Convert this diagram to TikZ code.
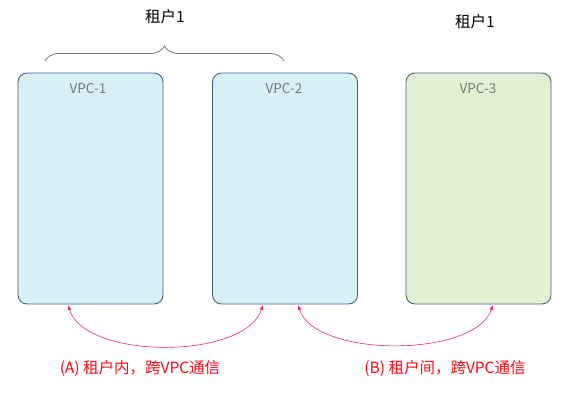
\documentclass[tikz,border=0pt]{standalone}
\usepackage{fontspec}
\setmainfont{Noto Sans CJK SC}
\usetikzlibrary{decorations.pathreplacing,arrows.meta}
\definecolor{bordc}{HTML}{4A5F8E}
\definecolor{bluef}{HTML}{D6F0F6}
\definecolor{greenf}{HTML}{E0F2D2}
\definecolor{labc}{HTML}{7A7A7A}
\definecolor{redc}{HTML}{FF0A14}
\definecolor{arrc}{HTML}{EC2C58}
\begin{document}
\begin{tikzpicture}[x=1pt,y=-1pt,
  vpc/.style={draw=bordc,line width=0.9pt,rounded corners=9pt,minimum width=145pt,minimum height=231pt,inner sep=0pt},
  vlab/.style={text=labc,font=\fontsize{13.5}{15}\selectfont,anchor=center},
  ttl/.style={font=\fontsize{15.5}{18}\selectfont,anchor=center},
  rlab/.style={text=redc,font=\fontsize{15.5}{18}\selectfont,anchor=center},
  conn/.style={draw=arrc,line width=0.6pt,{Latex[length=5pt,width=4pt]}-{Latex[length=5pt,width=4pt]}}]
\useasboundingbox (0,0) rectangle (569,396);
\node[vpc,fill=bluef] (v1) at (90.5,188.5) {};
\node[vpc,fill=bluef] (v2) at (285,188.5) {};
\node[vpc,fill=greenf] (v3) at (478.5,188.5) {};
\node[vlab] (l1) at (88,89) {VPC-1};
\node[vlab] (l2) at (284,89) {VPC-2};
\node[vlab] (l3) at (478,89) {VPC-3};
\node[ttl] (t1) at (165,17) {租户1};
\node[ttl] (t2) at (475,22) {租户1};
\coordinate (b1) at (45,61);
\coordinate (b2) at (284,61);
\draw[labc,line width=0.8pt,decorate,decoration={brace,amplitude=15pt,aspect=0.5}] (b1) -- (b2);
\coordinate (a1) at (68,305);
\coordinate (a2) at (263,305);
\coordinate (a3) at (298,305);
\coordinate (a4) at (493,305);
\draw[conn] (a1) .. controls (85,360) and (245,360) .. (a2);
\draw[conn] (a3) .. controls (315,358) and (475,358) .. (a4);
\node[rlab] (r1) at (140,368) {(A) 租户内，跨VPC通信};
\node[rlab] (r2) at (445,368) {(B) 租户间，跨VPC通信};
\end{tikzpicture}
\end{document}
